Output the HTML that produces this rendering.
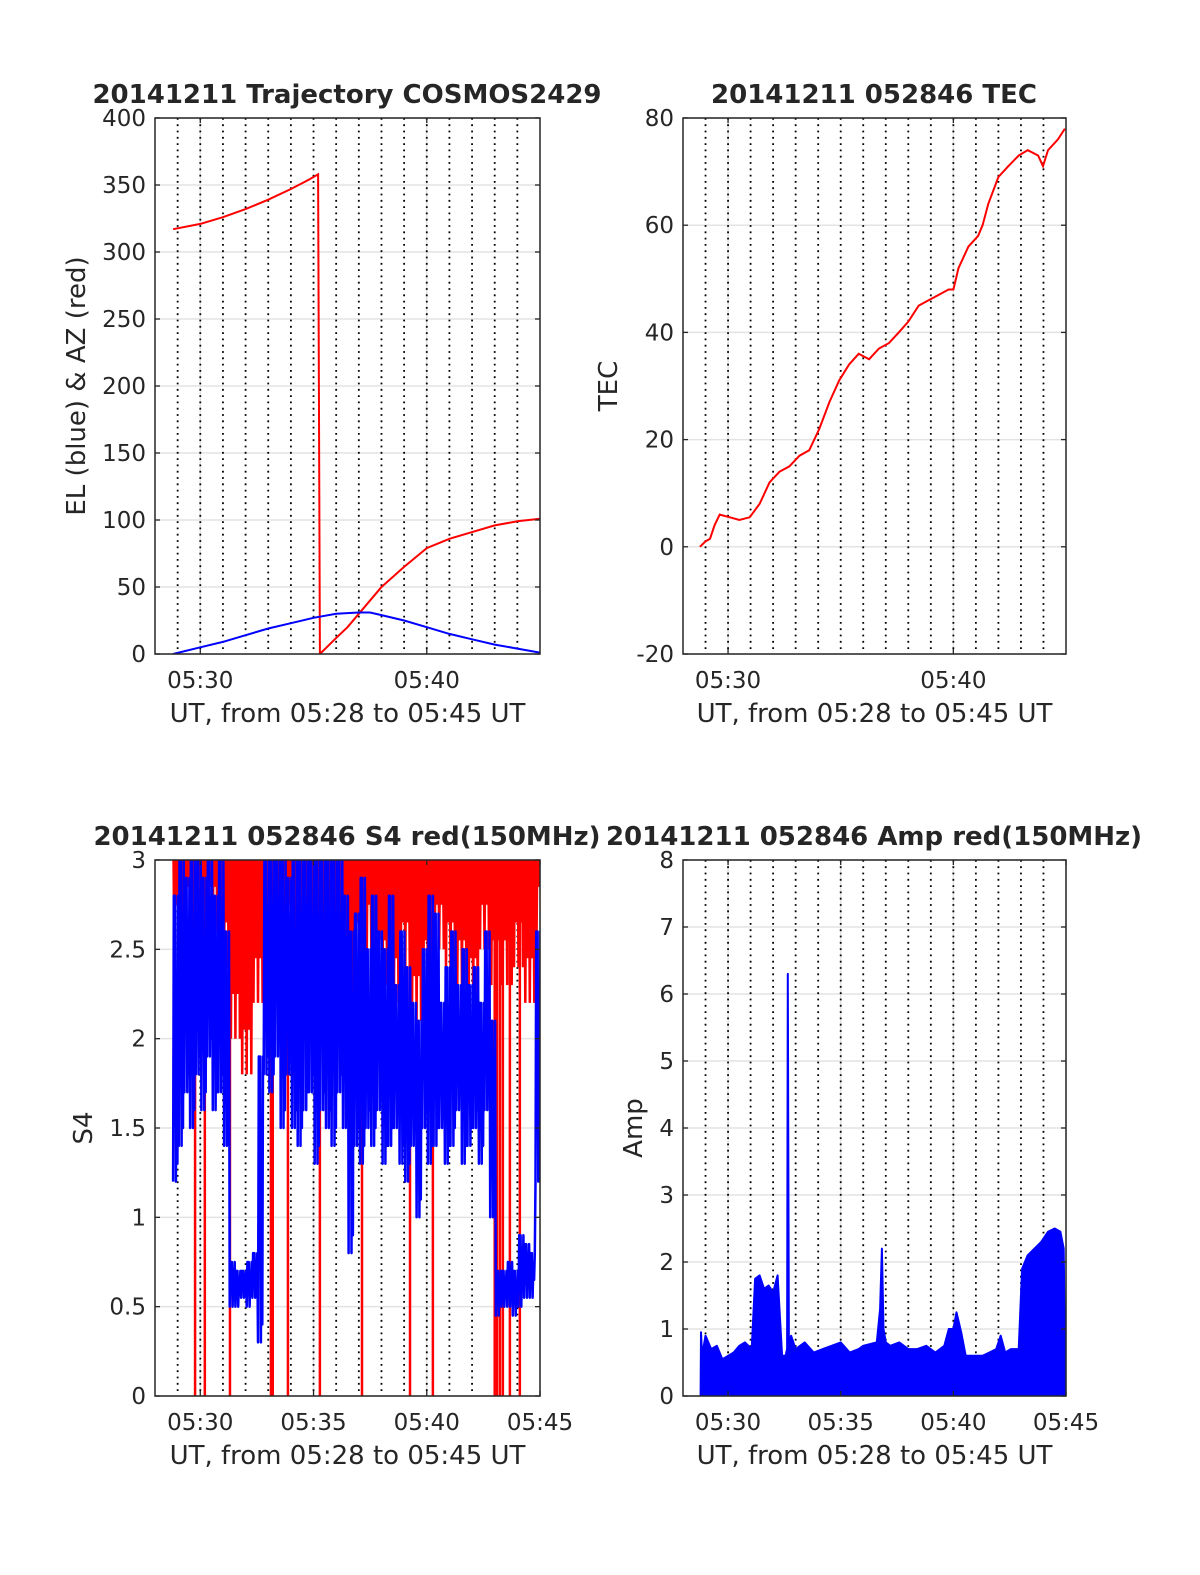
<!DOCTYPE html>
<html><head><meta charset="utf-8"><style>
html,body{margin:0;padding:0;background:#fff}
svg{display:block}
text{font-family:"DejaVu Sans","Liberation Sans",sans-serif;fill:#262626}
</style></head><body>
<svg id="fig" width="1200" height="1575" viewBox="0 0 1200 1575" xmlns="http://www.w3.org/2000/svg">
<rect width="1200" height="1575" fill="#fff"/>
</svg>
<script>
// ---- data (minutes after 05:28) ----
const azT=[0.8,2,3,4,5,6,6.8,7.2,7.28,8,8.5,9,10,11,12,13,14,15,16,17];
const azV=[317,321,326,332,339,347,354,358,0,12,20,30,50,65,79,86,91,96,99,101];
const elT=[0.8,2,3,4,5,6,7,8,9,9.5,10,11,12,13,14,15,16,17];
const elV=[0,5,9,14,19,23,27,30,31,31,29,25,20,15,11,7,4,1];
const tecT=[0.75,1.0,1.2,1.4,1.63,2.08,2.5,2.96,3.4,3.84,4.28,4.72,5.17,5.6,6.05,6.5,6.93,7.37,7.8,8.26,8.7,9.14,9.58,10.0,10.46,10.9,11.35,11.79,12.0,12.23,12.67,13.1,13.3,13.55,14.0,14.44,14.9,15.3,15.76,15.98,16.2,16.64,16.95];
const tecV=[0,1,1.5,4,6,5.5,5,5.5,8,12,14,15,17,18,22,27,31,34,36,35,37,38,40,42,45,46,47,48,48,52,56,58,60,64,69,71,73,74,73,71,74,76,78];
const s4T0=0.8, s4Step=0.25;
const blueLo=[1.2,1.4,1.7,1.5,1.8,1.6,1.9,1.6,1.7,1.4,0.5,0.5,0.55,0.5,0.55,0.3,1.8,1.7,1.9,1.5,1.8,1.5,1.4,1.6,1.7,1.3,1.6,1.5,1.4,1.7,1.5,0.8,1.4,1.3,1.5,1.4,1.6,1.3,1.4,1.5,1.3,1.2,1.4,1.0,1.5,1.3,1.4,1.5,1.3,1.4,1.6,1.3,1.4,1.5,1.3,1.6,1.0,0.45,0.5,0.5,0.45,0.5,0.55,0.55,1.2,1.6];
const blueHi=[2.8,3.0,2.9,3.0,3.0,2.9,3.0,2.8,3.0,2.6,0.75,0.7,0.7,0.75,0.8,1.9,3.0,3.0,3.0,3.0,2.9,3.0,3.0,3.0,3.0,3.0,3.0,3.0,3.0,3.0,2.8,2.6,2.7,2.9,2.5,2.8,2.6,2.5,2.8,2.3,2.6,2.4,2.2,2.1,2.5,2.8,2.7,2.2,2.4,2.6,2.3,2.5,2.3,2.4,2.2,2.6,2.1,0.7,0.7,0.75,0.7,0.9,0.85,0.8,2.6,2.5];
const redT0=0.8, redStep=0.5;
const redLo=[2.5,2.6,2.5,2.6,2.4,2.0,1.8,2.2,2.3,2.5,2.5,2.2,2.3,2.4,2.4,2.2,2.4,2.5,2.3,2.2,2.4,2.1,2.3,2.5,2.4,2.3,2.2,2.5,2.3,2.3,2.4,2.2,2.6];
const redDrops=[1.77,2.2,3.31,5.12,5.2,5.87,7.28,9.14,11.26,12.27,15.0,15.1,15.23,15.36,15.67,16.11];
const ampT=[0.78,0.8,0.85,1.0,1.25,1.5,1.75,2.0,2.25,2.5,2.75,3.05,3.2,3.4,3.6,3.8,4.0,4.2,4.4,4.55,4.62,4.65,4.7,4.8,5.0,5.4,5.8,6.2,6.6,7.0,7.4,7.8,8.0,8.6,8.75,8.83,8.9,9.0,9.2,9.6,10.0,10.4,10.8,11.2,11.6,11.8,12.0,12.14,12.35,12.55,12.9,13.3,13.6,13.9,14.1,14.3,14.55,14.9,15.05,15.3,15.6,15.9,16.2,16.5,16.75,16.9,16.95,17.0];
const ampV=[0,0.95,0.6,0.9,0.7,0.75,0.55,0.6,0.65,0.75,0.8,0.7,1.75,1.8,1.6,1.65,1.55,1.8,0.6,0.6,0.7,6.3,0.7,0.9,0.7,0.8,0.65,0.7,0.75,0.8,0.65,0.7,0.75,0.8,1.3,2.2,1.0,0.8,0.75,0.8,0.7,0.7,0.75,0.65,0.75,1.0,1.0,1.25,0.95,0.6,0.6,0.6,0.65,0.7,0.9,0.65,0.7,0.7,1.9,2.1,2.2,2.3,2.45,2.5,2.45,2.2,0.8,0.8];

const NS="http://www.w3.org/2000/svg";
const svg=document.getElementById('fig');
function mk(tag,attrs,parent){const e=document.createElementNS(NS,tag);for(const k in attrs)e.setAttribute(k,attrs[k]);(parent||svg).appendChild(e);return e;}
function fmt(m){const tot=28+m;return '05:'+String(tot).padStart(2,'0');}

function panel(o){
  const g=mk('g',{});
  
  
  const X=t=>o.x0+(t/17)*(o.x1-o.x0);
  const Y=v=>o.y1-(v-o.ymin)/(o.ymax-o.ymin)*(o.y1-o.y0);
  o.yticks.forEach(v=>{
    const l=mk('line',{x1:o.x0,x2:o.x1,y1:Y(v),y2:Y(v),stroke:'#e3e3e3','stroke-width':1.5},g);
    
    
  });
  o.xticks.forEach(t=>{
    const l=mk('line',{x1:X(t),x2:X(t),y1:o.y0,y2:o.y1,stroke:'#e3e3e3','stroke-width':1.5},g);
    
    
  });
  for(let m=1;m<17;m++){
    const l=mk('line',{x1:X(m),x2:X(m),y1:o.y0,y2:o.y1,stroke:'#000','stroke-width':1.8,'stroke-dasharray':'1.8 4.5'},g);
    
    
  }
  const cid='clip-'+o.name;
  const cp=mk('clipPath',{id:cid},g);
  mk('rect',{x:o.x0,y:o.y0,width:o.x1-o.x0,height:o.y1-o.y0},cp);
  const dg=mk('g',{'clip-path':'url(#'+cid+')'},g);
  o.draw(dg,X,Y);
  const b=mk('rect',{x:o.x0,y:o.y0,width:o.x1-o.x0,height:o.y1-o.y0,fill:'none',stroke:'#262626','stroke-width':1.5},g);
  
  
  o.yticks.forEach(v=>{
    mk('line',{x1:o.x0,x2:o.x0+5,y1:Y(v),y2:Y(v),stroke:'#262626','stroke-width':1.3},g);
    mk('line',{x1:o.x1,x2:o.x1-5,y1:Y(v),y2:Y(v),stroke:'#262626','stroke-width':1.3},g);
    const tx=mk('text',{x:o.x0-9,y:Y(v)+8,'text-anchor':'end','font-size':23},g);
    tx.textContent=String(v);
    
    
  });
  o.xticks.forEach(t=>{
    mk('line',{x1:X(t),x2:X(t),y1:o.y1,y2:o.y1-5,stroke:'#262626','stroke-width':1.3},g);
    mk('line',{x1:X(t),x2:X(t),y1:o.y0,y2:o.y0+5,stroke:'#262626','stroke-width':1.3},g);
    const tx=mk('text',{x:X(t),y:o.y1+34,'text-anchor':'middle','font-size':23},g);
    tx.textContent=fmt(t);
    
    
  });
  const xl=mk('text',{x:(o.x0+o.x1)/2,y:o.y1+68,'text-anchor':'middle','font-size':26},g);
  xl.textContent='UT, from 05:28 to 05:45 UT';
  
  
  const cy=(o.y0+o.y1)/2;
  const yl=mk('text',{x:o.ylx,y:cy,'text-anchor':'middle','font-size':26,transform:'rotate(-90 '+o.ylx+' '+cy+')'},g);
  yl.textContent=o.ylabel;
  
  
  const ti=mk('text',{x:o.tx,y:o.y0-15,'text-anchor':'middle','font-size':26,'font-weight':'bold',fill:'#000'},g);
  ti.textContent=o.title;
  
  
}
function pts(T,V,X,Y){return T.map((t,i)=>X(t).toFixed(1)+','+Y(V[i]).toFixed(1)).join(' ');}

panel({name:'trajectory-panel',x0:155,x1:540,y0:118,y1:654,ymin:0,ymax:400,yticks:[0,50,100,150,200,250,300,350,400],xticks:[2,12],ylx:85,ylabel:'EL (blue) & AZ (red)',tx:347,title:'20141211 Trajectory COSMOS2429',
  draw:(g,X,Y)=>{
    const a=mk('polyline',{points:pts(azT,azV,X,Y),fill:'none',stroke:'#f00','stroke-width':2},g);
    
    const e=mk('polyline',{points:pts(elT,elV,X,Y),fill:'none',stroke:'#00f','stroke-width':2},g);
    
  }});
panel({name:'tec-panel',x0:683,x1:1066,y0:118,y1:654,ymin:-20,ymax:80,yticks:[-20,0,20,40,60,80],xticks:[2,12],ylx:617,ylabel:'TEC',tx:874,title:'20141211 052846 TEC',
  draw:(g,X,Y)=>{
    const l=mk('polyline',{points:pts(tecT,tecV,X,Y),fill:'none',stroke:'#f00','stroke-width':2},g);
    
  }});
panel({name:'s4-panel',x0:155,x1:540,y0:860,y1:1396,ymin:0,ymax:3,yticks:[0,0.5,1,1.5,2,2.5,3],xticks:[2,7,12,17],ylx:92,ylabel:'S4',tx:347,title:'20141211 052846 S4 red(150MHz)',
  draw:(g,X,Y)=>{
    let rp=[];
    redLo.forEach((v,i)=>{const t=redT0+i*redStep;
      for(let k=0;k<5;k++){const tt=t+k*redStep/5;rp.push(X(tt).toFixed(1)+','+Y(3.3).toFixed(1));rp.push(X(tt+redStep/10).toFixed(1)+','+Y(v+(k%2)*0.25).toFixed(1));}});
    const r=mk('polyline',{points:rp.join(' '),fill:'none',stroke:'#f00','stroke-width':2.5},g);
    
    redDrops.forEach(t=>{
      const d=mk('line',{x1:X(t),x2:X(t),y1:Y(3),y2:Y(0),stroke:'#f00','stroke-width':2.5},g);
      
    });
    let bp=[];
    blueLo.forEach((lo,i)=>{const t=s4T0+i*s4Step;const hi=blueHi[i];
      const seq=[lo,hi,(lo+hi)/2,hi,lo,(lo*0.3+hi*0.7),lo+0.1,hi];
      seq.forEach((v,k)=>bp.push(X(t+k*s4Step/seq.length).toFixed(1)+','+Y(v).toFixed(1)));});
    const b=mk('polyline',{points:bp.join(' '),fill:'none',stroke:'#00f','stroke-width':2.5,'stroke-linejoin':'round'},g);
    
  }});
panel({name:'amplitude-panel',x0:683,x1:1066,y0:860,y1:1396,ymin:0,ymax:8,yticks:[0,1,2,3,4,5,6,7,8],xticks:[2,7,12,17],ylx:642,ylabel:'Amp',tx:874,title:'20141211 052846 Amp red(150MHz)',
  draw:(g,X,Y)=>{
    const p=pts(ampT,ampV,X,Y)+' '+X(ampT[ampT.length-1]).toFixed(1)+','+Y(0)+' '+X(ampT[0]).toFixed(1)+','+Y(0);
    const a=mk('polygon',{points:p,fill:'#00f',stroke:'#00f','stroke-width':2,'stroke-linejoin':'round'},g);
    
  }});
</script>
</body></html>
